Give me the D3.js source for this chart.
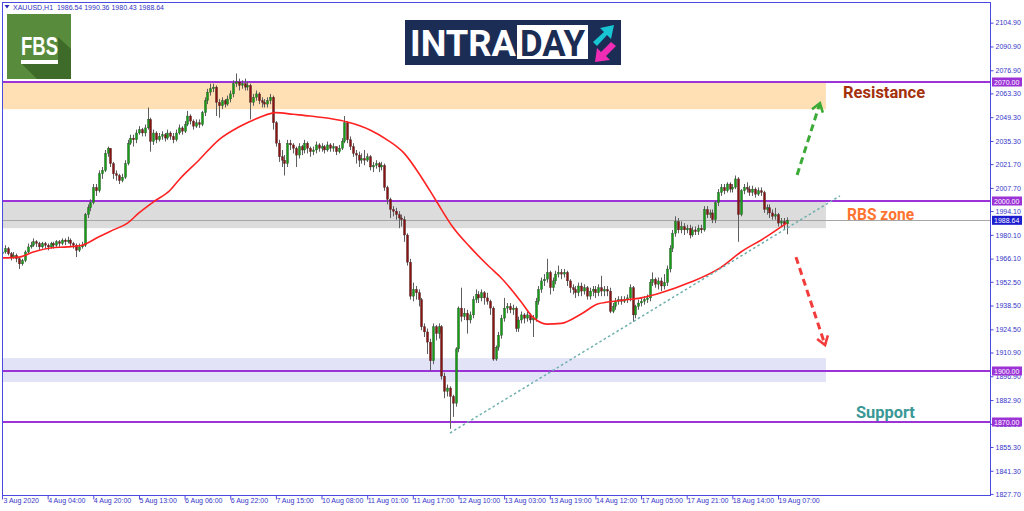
<!DOCTYPE html>
<html>
<head>
<meta charset="utf-8">
<script src="https://cdnjs.cloudflare.com/ajax/libs/d3/7.8.5/d3.min.js"></script>
<style>
   html, body { margin: 0; padding: 0; background: #fff; }
   svg { display: block; font-family: "Liberation Sans", Arial, sans-serif; }
</style>
</head>
<body>
<svg class="xauchart" width="1024" height="511"></svg>
<script>
// XAUUSD H1, 3 Aug - 19 Aug 2020, one entry per bar (open = previous close)
var firstOpen = 1969;
var closes = [
   1970, 1972, 1969, 1967, 1968, 1966, 1963, 1965, 1970, 1973,
   1974, 1976, 1975, 1973, 1975, 1974, 1973, 1975, 1974, 1976,
   1975, 1977, 1976, 1977, 1975, 1974, 1971, 1973, 1974, 1992,
   1996, 1999, 2008, 2006, 2016, 2018, 2028, 2031, 2022, 2016,
   2015, 2012, 2014, 2022, 2034, 2037, 2036, 2040, 2042, 2040,
   2043, 2048, 2035, 2040, 2036, 2038, 2039, 2037, 2040, 2038,
   2036, 2040, 2043, 2041, 2045, 2050, 2047, 2044, 2046, 2045,
   2052, 2059, 2064, 2066, 2067, 2058, 2056, 2059, 2057, 2060,
   2063, 2069, 2070, 2068, 2069, 2067, 2068, 2058, 2061, 2063,
   2059, 2058, 2057, 2059, 2061, 2046, 2034, 2026, 2024, 2022,
   2034, 2033, 2031, 2027, 2032, 2030, 2034, 2031, 2029, 2030,
   2033, 2031, 2032, 2030, 2033, 2031, 2032, 2029, 2031, 2035,
   2046, 2036, 2032, 2028, 2027, 2024, 2025, 2024, 2026, 2020,
   2021, 2022, 2020, 2021, 2008, 2001, 1995, 1994, 1992, 1990,
   1989, 1980, 1964, 1944, 1948, 1946, 1942, 1926, 1923, 1917,
   1906, 1926, 1922, 1926, 1897, 1888, 1890, 1885, 1881, 1913,
   1937, 1932, 1934, 1930, 1933, 1942, 1945, 1943, 1946, 1943,
   1941, 1937, 1907, 1914, 1921, 1931, 1937, 1938, 1936, 1937,
   1925, 1930, 1933, 1931, 1933, 1930, 1931, 1941, 1948, 1953,
   1954, 1958, 1949, 1953, 1957, 1958, 1957, 1958, 1953, 1949,
   1948, 1946, 1950, 1947, 1949, 1944, 1947, 1948, 1946, 1949,
   1947, 1948, 1947, 1935, 1938, 1941, 1942, 1941, 1942, 1943,
   1949, 1933, 1938, 1940, 1941, 1942, 1943, 1952, 1954, 1951,
   1953, 1950, 1952, 1960, 1972, 1981, 1988, 1983, 1985, 1983,
   1984, 1980, 1983, 1982, 1984, 1983, 1995, 1992, 1993, 1989,
   1999, 2005, 2008, 2006, 2010, 2007, 2008, 2013, 1992, 2006,
   2008, 2007, 2005, 2007, 2004, 2006, 2005, 1995, 1996, 1993,
   1991, 1992, 1987, 1988, 1986.54, 1988.64
];
var highs = [
   1972, 1974, 1973, 1970, 1970, 1969, 1967, 1966, 1971, 1975,
   1976, 1978, 1977, 1976, 1976, 1976, 1975, 1976, 1976, 1977,
   1977, 1978, 1978, 1979, 1978, 1976, 1975, 1975, 1976, 1993,
   1998, 2001, 2010, 2010, 2018, 2020, 2030, 2032, 2031, 2023,
   2018, 2016, 2016, 2024, 2036, 2039, 2039, 2042, 2044, 2043,
   2045, 2055, 2049, 2042, 2041, 2040, 2041, 2040, 2042, 2041,
   2040, 2042, 2045, 2044, 2047, 2053, 2051, 2048, 2048, 2048,
   2053, 2061, 2066, 2069, 2069, 2068, 2060, 2061, 2060, 2062,
   2065, 2071, 2075, 2072, 2071, 2072, 2070, 2069, 2063, 2065,
   2064, 2061, 2060, 2061, 2063, 2062, 2047, 2036, 2030, 2027,
   2036, 2036, 2034, 2032, 2034, 2033, 2036, 2035, 2032, 2032,
   2035, 2034, 2034, 2033, 2035, 2034, 2034, 2032, 2033, 2037,
   2050, 2047, 2038, 2034, 2030, 2029, 2028, 2030, 2028, 2027,
   2023, 2024, 2023, 2023, 2022, 2009, 2002, 1997, 1996, 1994,
   1992, 1991, 1981, 1966, 1952, 1950, 1948, 1943, 1928, 1925,
   1919, 1928, 1927, 1928, 1927, 1899, 1892, 1891, 1886, 1914,
   1938, 1949, 1937, 1936, 1935, 1944, 1948, 1947, 1948, 1947,
   1946, 1942, 1938, 1915, 1923, 1933, 1943, 1940, 1940, 1939,
   1938, 1932, 1935, 1934, 1935, 1934, 1933, 1943, 1950, 1955,
   1957, 1966, 1959, 1955, 1959, 1962, 1960, 1960, 1959, 1954,
   1951, 1950, 1952, 1952, 1951, 1950, 1949, 1950, 1950, 1951,
   1956, 1950, 1950, 1949, 1940, 1943, 1944, 1944, 1944, 1945,
   1951, 1950, 1939, 1942, 1943, 1944, 1945, 1954, 1958, 1955,
   1955, 1955, 1957, 1962, 1974, 1983, 1991, 1990, 1988, 1987,
   1986, 1986, 1985, 1985, 1986, 1986, 1997, 1997, 1995, 1995,
   2000, 2007, 2010, 2010, 2011, 2011, 2010, 2015, 2014, 2007,
   2010, 2011, 2009, 2009, 2008, 2008, 2008, 2006, 1998, 1998,
   1995, 1996, 1993, 1990, 1990, 1990.36
];
var lows = [
   1967, 1969, 1968, 1965, 1966, 1964, 1960, 1962, 1964, 1969,
   1972, 1973, 1973, 1971, 1972, 1972, 1971, 1972, 1972, 1973,
   1973, 1974, 1974, 1975, 1973, 1972, 1967, 1970, 1972, 1973,
   1990, 1994, 1998, 2003, 2005, 2013, 2017, 2026, 2020, 2013,
   2012, 2010, 2011, 2013, 2021, 2033, 2032, 2034, 2039, 2038,
   2038, 2042, 2029, 2033, 2034, 2035, 2036, 2035, 2036, 2036,
   2034, 2035, 2039, 2039, 2040, 2044, 2045, 2042, 2043, 2043,
   2044, 2050, 2057, 2062, 2064, 2050, 2049, 2054, 2055, 2056,
   2058, 2061, 2067, 2065, 2066, 2065, 2065, 2048, 2056, 2059,
   2057, 2055, 2055, 2055, 2057, 2042, 2032, 2023, 2020, 2015,
   2020, 2030, 2028, 2020, 2025, 2027, 2028, 2028, 2026, 2027,
   2028, 2029, 2029, 2028, 2029, 2029, 2029, 2027, 2028, 2030,
   2034, 2034, 2030, 2026, 2022, 2020, 2022, 2021, 2023, 2018,
   2017, 2019, 2017, 2018, 2006, 1998, 1990, 1991, 1989, 1984,
   1985, 1976, 1962, 1942, 1941, 1942, 1938, 1924, 1920, 1910,
   1900, 1904, 1918, 1919, 1895, 1884, 1885, 1866, 1873, 1879,
   1911, 1929, 1930, 1922, 1928, 1931, 1940, 1940, 1941, 1939,
   1939, 1933, 1906, 1906, 1912, 1919, 1929, 1934, 1934, 1933,
   1923, 1923, 1928, 1928, 1929, 1928, 1920, 1929, 1939, 1946,
   1950, 1952, 1945, 1947, 1951, 1955, 1954, 1955, 1950, 1946,
   1945, 1943, 1944, 1944, 1945, 1942, 1942, 1944, 1943, 1944,
   1944, 1944, 1944, 1934, 1934, 1936, 1939, 1939, 1940, 1940,
   1941, 1929, 1931, 1936, 1938, 1939, 1940, 1941, 1950, 1949,
   1948, 1947, 1948, 1950, 1958, 1970, 1979, 1981, 1981, 1980,
   1981, 1978, 1979, 1980, 1980, 1981, 1982, 1990, 1990, 1987,
   1987, 1997, 2003, 2004, 2005, 2005, 2005, 2007, 1976, 1991,
   2004, 2005, 2003, 2003, 2002, 2003, 2003, 1993, 1992, 1990,
   1989, 1989, 1985, 1985, 1983, 1980.43
];

// moving average (bar index, price)
var maBars = [0, 6, 11, 17, 23, 28, 34, 39, 44, 48, 53, 59, 62, 69, 76, 83, 90, 96, 102, 108, 115, 121, 129, 135,
   141, 147, 152, 158, 164, 171, 175, 182, 186, 191, 196, 203, 209, 217, 224, 231, 241, 252, 259, 267, 275];
var maValues = [1966.5, 1967, 1970, 1972.4, 1973, 1974, 1979, 1983, 1987, 1993, 1999.4, 2006.5, 2012.4, 2024, 2036,
   2043.5, 2049, 2052, 2051, 2050, 2048.5, 2046.5, 2041.8, 2036, 2028, 2014, 2000.6, 1984.7, 1973, 1961, 1954.7,
   1940.6, 1931.8, 1927.6, 1928, 1933.5, 1939.5, 1941.5, 1943, 1946, 1952, 1961, 1970, 1978, 1987];

var priceTicks = [2104.90, 2090.90, 2076.90, 2063.30, 2049.30, 2035.30, 2021.70, 2007.70, 1994.10, 1980.10,
   1966.10, 1952.50, 1938.50, 1924.50, 1910.90, 1896.90, 1882.90, 1868.90, 1855.30, 1841.30, 1827.70];
var timeLabelBars = [0, 16, 32, 48, 64, 80, 96, 112, 128, 144, 160, 176, 192, 208, 224, 240, 256, 272];
var timeLabels = ['3 Aug 2020', '4 Aug 04:00', '4 Aug 20:00', '5 Aug 13:00', '6 Aug 06:00', '6 Aug 22:00',
   '7 Aug 15:00', '10 Aug 08:00', '11 Aug 01:00', '11 Aug 17:00', '12 Aug 10:00', '13 Aug 03:00',
   '13 Aug 19:00', '14 Aug 12:00', '17 Aug 05:00', '17 Aug 21:00', '18 Aug 14:00', '19 Aug 07:00'];

var levelPrices = [2070, 2000, 1900, 1870];
var lastPrice = 1988.64;
var zoneNames = ['resistance', 'rbs', 'support'];
var zoneTops = [2070, 2000, 1907.6];
var zoneBottoms = [2054, 1984, 1893.5];
var zoneEndBar = 288.8;

// annotations in (bar, price)
var trendBars = [157, 293.7], trendPrices = [1863.5, 2003];
var upArrowBars = [278.7, 286.7], upArrowPrices = [2015.3, 2057.6];
var downArrowBars = [278.3, 288.5], downArrowPrices = [1967, 1915.3];

(function drawChart() {
   var svg = d3.select('svg.xauchart');
   var frame = {left: 3, top: 3, right: 991, bottom: 496};
   var axisBlue = '#4a4ae0', purple = '#9c33d6';

   var x = d3.scaleLinear().domain([0, 272]).range([2, 778]);
   var y = d3.scaleLinear().domain([1870, 2000]).range([422, 201]);

   svg.append('rect').attr('width', 1024).attr('height', 511).attr('fill', '#fff');

   svg.append('clipPath').attr('id', 'plotclip')
      .append('rect')
      .attr('x', frame.left).attr('y', frame.top)
      .attr('width', frame.right - frame.left).attr('height', frame.bottom - frame.top);

   var plot = svg.append('g').attr('clip-path', 'url(#plotclip)');

   // zones
   var zoneColors = {resistance: '#fee0b4', rbs: '#dcdcdc', support: '#e3e3f8'};
   plot.selectAll('.zone').data(zoneNames).enter().append('rect')
      .attr('class', 'zone')
      .attr('x', frame.left)
      .attr('width', function () { return x(zoneEndBar) - frame.left; })
      .attr('y', function (d, i) { return y(zoneTops[i]); })
      .attr('height', function (d, i) { return y(zoneBottoms[i]) - y(zoneTops[i]); })
      .attr('fill', function (d) { return zoneColors[d]; });

   // current price line
   plot.append('line')
      .attr('x1', frame.left).attr('x2', frame.right)
      .attr('y1', Math.round(y(lastPrice)) + 0.5).attr('y2', Math.round(y(lastPrice)) + 0.5)
      .attr('stroke', '#a6a6a6').attr('stroke-width', 1);

   // horizontal levels
   plot.selectAll('.level').data(levelPrices).enter().append('line')
      .attr('class', 'level')
      .attr('x1', frame.left).attr('x2', frame.right)
      .attr('y1', function (d) { return y(d); }).attr('y2', function (d) { return y(d); })
      .attr('stroke', purple).attr('stroke-width', 1.8);

   // candles
   var bars = closes.map(function (c, i) {
      return {i: i, o: i ? closes[i - 1] : firstOpen, h: highs[i], l: lows[i], c: c};
   });

   var candle = plot.selectAll('.candle').data(bars).enter().append('g').attr('class', 'candle');

   candle.append('line')
      .attr('x1', function (d) { return Math.round(x(d.i)) + 0.5; })
      .attr('x2', function (d) { return Math.round(x(d.i)) + 0.5; })
      .attr('y1', function (d) { return y(d.h); })
      .attr('y2', function (d) { return y(d.l); })
      .attr('stroke', '#5e5e5e').attr('stroke-width', 1);

   candle.append('rect')
      .attr('x', function (d) { return Math.round(x(d.i)) - 0.6; })
      .attr('width', 2.2)
      .attr('y', function (d) { return y(Math.max(d.o, d.c)); })
      .attr('height', function (d) { return Math.max(1, Math.abs(y(d.o) - y(d.c))); })
      .attr('fill', function (d) { return d.c >= d.o ? '#149e14' : '#8a1212'; })
      .attr('stroke', '#2d2d2d').attr('stroke-width', 0.3);

   // moving average
   var maLine = d3.line()
      .x(function (d) { return x(d); })
      .y(function (d, i) { return y(maValues[i]); })
      .curve(d3.curveMonotoneX);

   plot.append('path')
      .attr('d', maLine(maBars))
      .attr('fill', 'none').attr('stroke', '#ff2222').attr('stroke-width', 1.6);

   // trend line
   plot.append('line')
      .attr('x1', x(trendBars[0])).attr('y1', y(trendPrices[0]))
      .attr('x2', x(trendBars[1])).attr('y2', y(trendPrices[1]))
      .attr('stroke', '#6fb0ae').attr('stroke-width', 1.5).attr('stroke-dasharray', '2.5,2.5');

   // dashed arrows with an open head
   function arrow(bars2, prices2, color) {
      var x1 = x(bars2[0]), y1 = y(prices2[0]), x2 = x(bars2[1]), y2 = y(prices2[1]);
      var ang = Math.atan2(y2 - y1, x2 - x1), len = 10, spread = 0.6;
      plot.append('line')
         .attr('x1', x1).attr('y1', y1)
         .attr('x2', x2 - 2 * Math.cos(ang)).attr('y2', y2 - 2 * Math.sin(ang))
         .attr('stroke', color).attr('stroke-width', 3).attr('stroke-dasharray', '7,4.5');
      plot.append('polyline')
         .attr('points', [
            [x2 - len * Math.cos(ang - spread), y2 - len * Math.sin(ang - spread)],
            [x2, y2],
            [x2 - len * Math.cos(ang + spread), y2 - len * Math.sin(ang + spread)]
         ].map(function (p) { return p.join(','); }).join(' '))
         .attr('fill', 'none').attr('stroke', color).attr('stroke-width', 2.6)
         .attr('stroke-linejoin', 'miter');
   }
   arrow(upArrowBars, upArrowPrices, '#3caa36');
   arrow(downArrowBars, downArrowPrices, '#f23b3b');

   // zone labels
   var zoneLabels = [
      {text: 'Resistance', bar: 294.8, price: 2060.6, color: '#a4300c', width: 82},
      {text: 'RBS zone', bar: 296.2, price: 1988.8, color: '#ff7330', width: 67},
      {text: 'Support', bar: 299.3, price: 1872.4, color: '#3a9896', width: 59}
   ];
   svg.selectAll('.zonelabel').data(zoneLabels).enter().append('text')
      .attr('class', 'zonelabel')
      .attr('x', function (d) { return x(d.bar); })
      .attr('y', function (d) { return y(d.price); })
      .attr('fill', function (d) { return d.color; })
      .attr('textLength', function (d) { return d.width; })
      .attr('lengthAdjust', 'spacingAndGlyphs')
      .style('font', 'bold 17px Roboto, "Liberation Sans", sans-serif')
      .text(function (d) { return d.text; });

   // frame
   svg.append('rect')
      .attr('x', frame.left - 0.5).attr('y', frame.top - 0.5)
      .attr('width', frame.right - frame.left).attr('height', frame.bottom - frame.top)
      .attr('fill', 'none').attr('stroke', axisBlue).attr('stroke-width', 1);

   // right price axis
   var yAxis = d3.axisRight(y)
      .tickValues(priceTicks)
      .tickSize(3)
      .tickSizeOuter(0)
      .tickFormat(d3.format('.2f'));

   var yAxisGroup = svg.append('g')
      .attr('transform', 'translate(' + (frame.right - 0.5) + ',0)')
      .call(yAxis);
   yAxisGroup.select('.domain').remove();
   yAxisGroup.selectAll('.tick line').attr('stroke', axisBlue);
   yAxisGroup.selectAll('.tick text')
      .attr('x', 5)
      .attr('fill', '#3535c8')
      .style('font', '7px "Liberation Sans", Arial, sans-serif');

   // value boxes on the price axis
   var boxes = levelPrices.map(function (p) { return {p: p, fill: purple}; });
   boxes.push({p: lastPrice, fill: '#1d1dcf'});

   var box = svg.selectAll('.pricebox').data(boxes).enter().append('g').attr('class', 'pricebox');
   box.append('rect')
      .attr('x', frame.right + 1).attr('width', 30)
      .attr('y', function (d) { return y(d.p) - 4.5; })
      .attr('height', 9)
      .attr('fill', function (d) { return d.fill; });
   box.append('text')
      .attr('x', frame.right + 3)
      .attr('y', function (d) { return y(d.p) + 2.6; })
      .attr('fill', '#fff')
      .style('font', '7px "Liberation Sans", Arial, sans-serif')
      .text(function (d) { return d.p.toFixed(2); });

   // bottom time axis
   var xAxis = d3.axisBottom(x)
      .tickValues(timeLabelBars)
      .tickSize(4)
      .tickSizeOuter(0)
      .tickFormat(function (d, i) { return timeLabels[i]; });

   var xAxisGroup = svg.append('g')
      .attr('transform', 'translate(0,' + (frame.bottom - 0.5) + ')')
      .call(xAxis);
   xAxisGroup.select('.domain').remove();
   xAxisGroup.selectAll('.tick line').attr('stroke', axisBlue);
   xAxisGroup.selectAll('.tick text')
      .attr('text-anchor', 'start')
      .attr('x', function (d, i) { return i === 0 ? 1 : 0; })
      .attr('y', 3)
      .attr('fill', '#3535c8')
      .style('font', '7px "Liberation Sans", Arial, sans-serif');

   // symbol header
   svg.append('path').attr('d', 'M4.5,5 L9.5,5 L7,8.5 Z').attr('fill', '#2a2ab8');
   svg.append('text')
      .attr('x', 13).attr('y', 10)
      .attr('fill', '#3333c4')
      .style('font', '7px "Liberation Sans", Arial, sans-serif')
      .style('white-space', 'pre')
      .text('XAUUSD,H1  1986.54 1990.36 1980.43 1988.64');

   // FBS badge
   var fbs = svg.append('g');
   fbs.append('rect').attr('x', 7).attr('y', 14).attr('width', 64).attr('height', 65).attr('fill', '#588b3b');
   fbs.append('polygon')
      .attr('points', '22,64 58,64 58,37 71,49 71,79 37,79')
      .attr('fill', '#3f6b2a');
   fbs.append('text')
      .attr('x', 21).attr('y', 55)
      .attr('fill', '#fff')
      .attr('textLength', 37).attr('lengthAdjust', 'spacingAndGlyphs')
      .style('font', 'bold 26px "Liberation Sans", Arial, sans-serif')
      .text('FBS');
   fbs.append('rect').attr('x', 21).attr('y', 60).attr('width', 37).attr('height', 4).attr('fill', '#fff');

   // INTRADAY banner
   var navy = '#1c2d55';
   var intra = svg.append('g');
   intra.append('rect').attr('x', 405).attr('y', 20).attr('width', 216).attr('height', 45).attr('fill', navy);
   intra.append('text')
      .attr('x', 410).attr('y', 56)
      .attr('fill', '#fff')
      .attr('textLength', 106).attr('lengthAdjust', 'spacingAndGlyphs')
      .style('font', 'bold 37px Roboto, "Liberation Sans", sans-serif')
      .text('INTRA');
   intra.append('rect').attr('x', 517).attr('y', 25).attr('width', 71).attr('height', 34).attr('fill', '#fff');
   intra.append('text')
      .attr('x', 520).attr('y', 56)
      .attr('fill', navy)
      .attr('textLength', 65).attr('lengthAdjust', 'spacingAndGlyphs')
      .style('font', 'bold 37px Roboto, "Liberation Sans", sans-serif')
      .text('DAY');
   intra.append('polygon')
      .attr('points', '593,42 604,32 600,28 614,25 611,39 607,35 597,46')
      .attr('fill', '#17c6d2');
   intra.append('polygon')
      .attr('points', '616,46 606,56 610,60 595,62 597,48 601,52 611,42')
      .attr('fill', '#f02cb4');
})();
</script>
</body>
</html>
